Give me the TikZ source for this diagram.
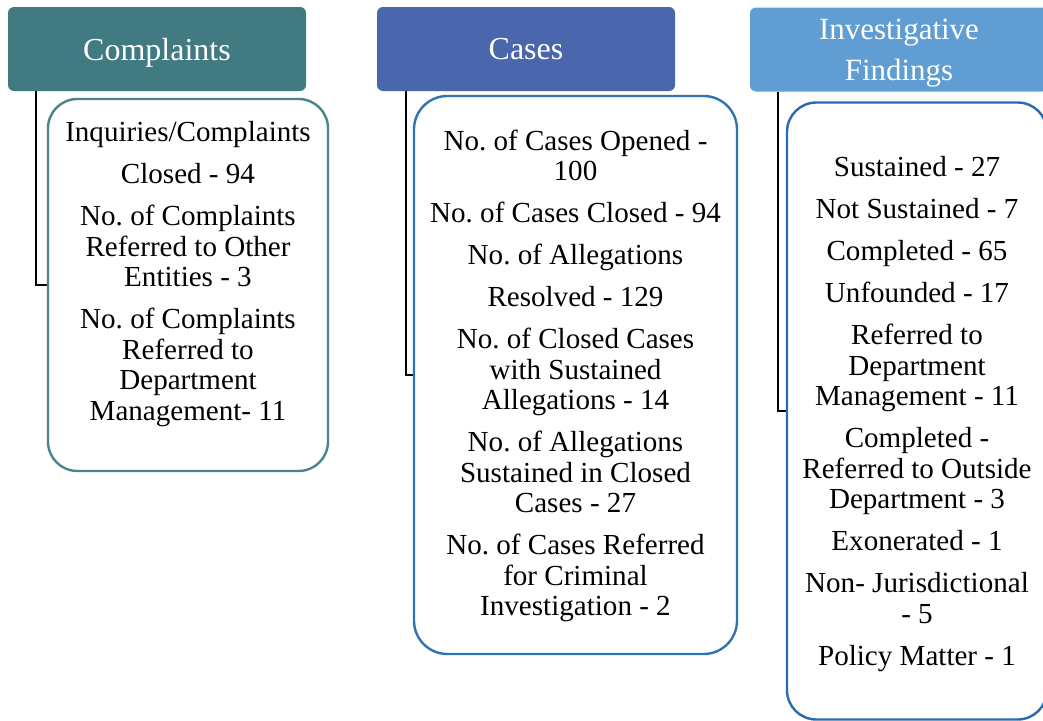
\documentclass[tikz,border=0pt]{standalone}
\usepackage{fontspec}
\setmainfont{Liberation Serif}
\frenchspacing
\definecolor{cteal}{RGB}{66,122,130}
\definecolor{ctealb}{RGB}{74,133,140}
\definecolor{ccase}{RGB}{74,102,172}
\definecolor{ccaseb}{RGB}{46,116,181}
\definecolor{cinv}{RGB}{96,157,211}
\definecolor{cinvb}{RGB}{42,106,176}
\begin{document}
\begin{tikzpicture}[x=0.75pt,y=-0.75pt,
  hdr/.style={rectangle, rounded corners=4.5pt, minimum width=223.5pt, minimum height=63pt,
    text=white, font=\fontsize{24}{31}\selectfont, align=center, inner sep=0pt, text depth=0pt},
  bodybox/.style={rectangle, rounded corners=22pt, draw, line width=1.8pt, fill=white, inner sep=0pt},
  txt/.style={align=center, font=\fontsize{21.8}{22.875}\selectfont, inner sep=0pt, anchor=base},
  conn/.style={draw=black, line width=1.6pt}]
\useasboundingbox (0,0) rectangle (1043,721);
\clip (0,0) rectangle (1043,721);
\fill[white] (0,0) rectangle (1043,721);

% headers
\node[hdr, fill=cteal] (hC) at (157,49) {Complaints};
\node[hdr, fill=ccase] (hK) at (526,49) {Cases};
\node[hdr, fill=cinv, font=\fontsize{23.2}{31}\selectfont] (hI) at (899,49.5) {Investigative\\Findings};

% connectors
\draw[conn] ([xshift=21pt]hC.south west) |- (188,285) coordinate (cC);
\draw[conn] ([xshift=21.75pt]hK.south west) |- (575.5,375) coordinate (cK);
\draw[conn] ([xshift=21pt]hI.south west) |- (917,411) coordinate (cI);

% bodies
\node[bodybox, draw=ctealb, minimum width=210pt, minimum height=279pt] (bC) at (188,285) {};
\node[bodybox, draw=ccaseb, minimum width=242.25pt, minimum height=418.5pt, rounded corners=25pt] (bK) at (575.5,375) {};
\node[bodybox, draw=cinvb, minimum width=195pt, minimum height=462.75pt] (bI) at (917,411) {};

% texts (base anchor = last line baseline)
\node[txt] (tC) at (188,420) {Inquiries/Complaints\\[8.625pt]Closed - 94\\[8.625pt]No. of Complaints\\Referred to Other\\Entities - 3\\[8.625pt]No. of Complaints\\Referred to\\Department\\Management- 11};
\node[txt] (tK) at (575.5,615.5) {No. of Cases Opened -\\100\\[8.625pt]No. of Cases Closed - 94\\[8.625pt]No. of Allegations\\[8.625pt]Resolved - 129\\[8.625pt]No. of Closed Cases\\with Sustained\\Allegations - 14\\[8.625pt]No. of Allegations\\Sustained in Closed\\Cases - 27\\[8.625pt]No. of Cases Referred\\for Criminal\\Investigation - 2};
\node[txt] (tI) at (917,665.2) {Sustained - 27\\[8.625pt]Not Sustained - 7\\[8.625pt]Completed - 65\\[8.625pt]Unfounded - 17\\[8.625pt]Referred to\\Department\\Management - 11\\[8.625pt]Completed -\\Referred to Outside\\Department - 3\\[8.625pt]Exonerated - 1\\[8.625pt]Non- Jurisdictional\\- 5\\[8.625pt]Policy Matter - 1};
\end{tikzpicture}
\end{document}
